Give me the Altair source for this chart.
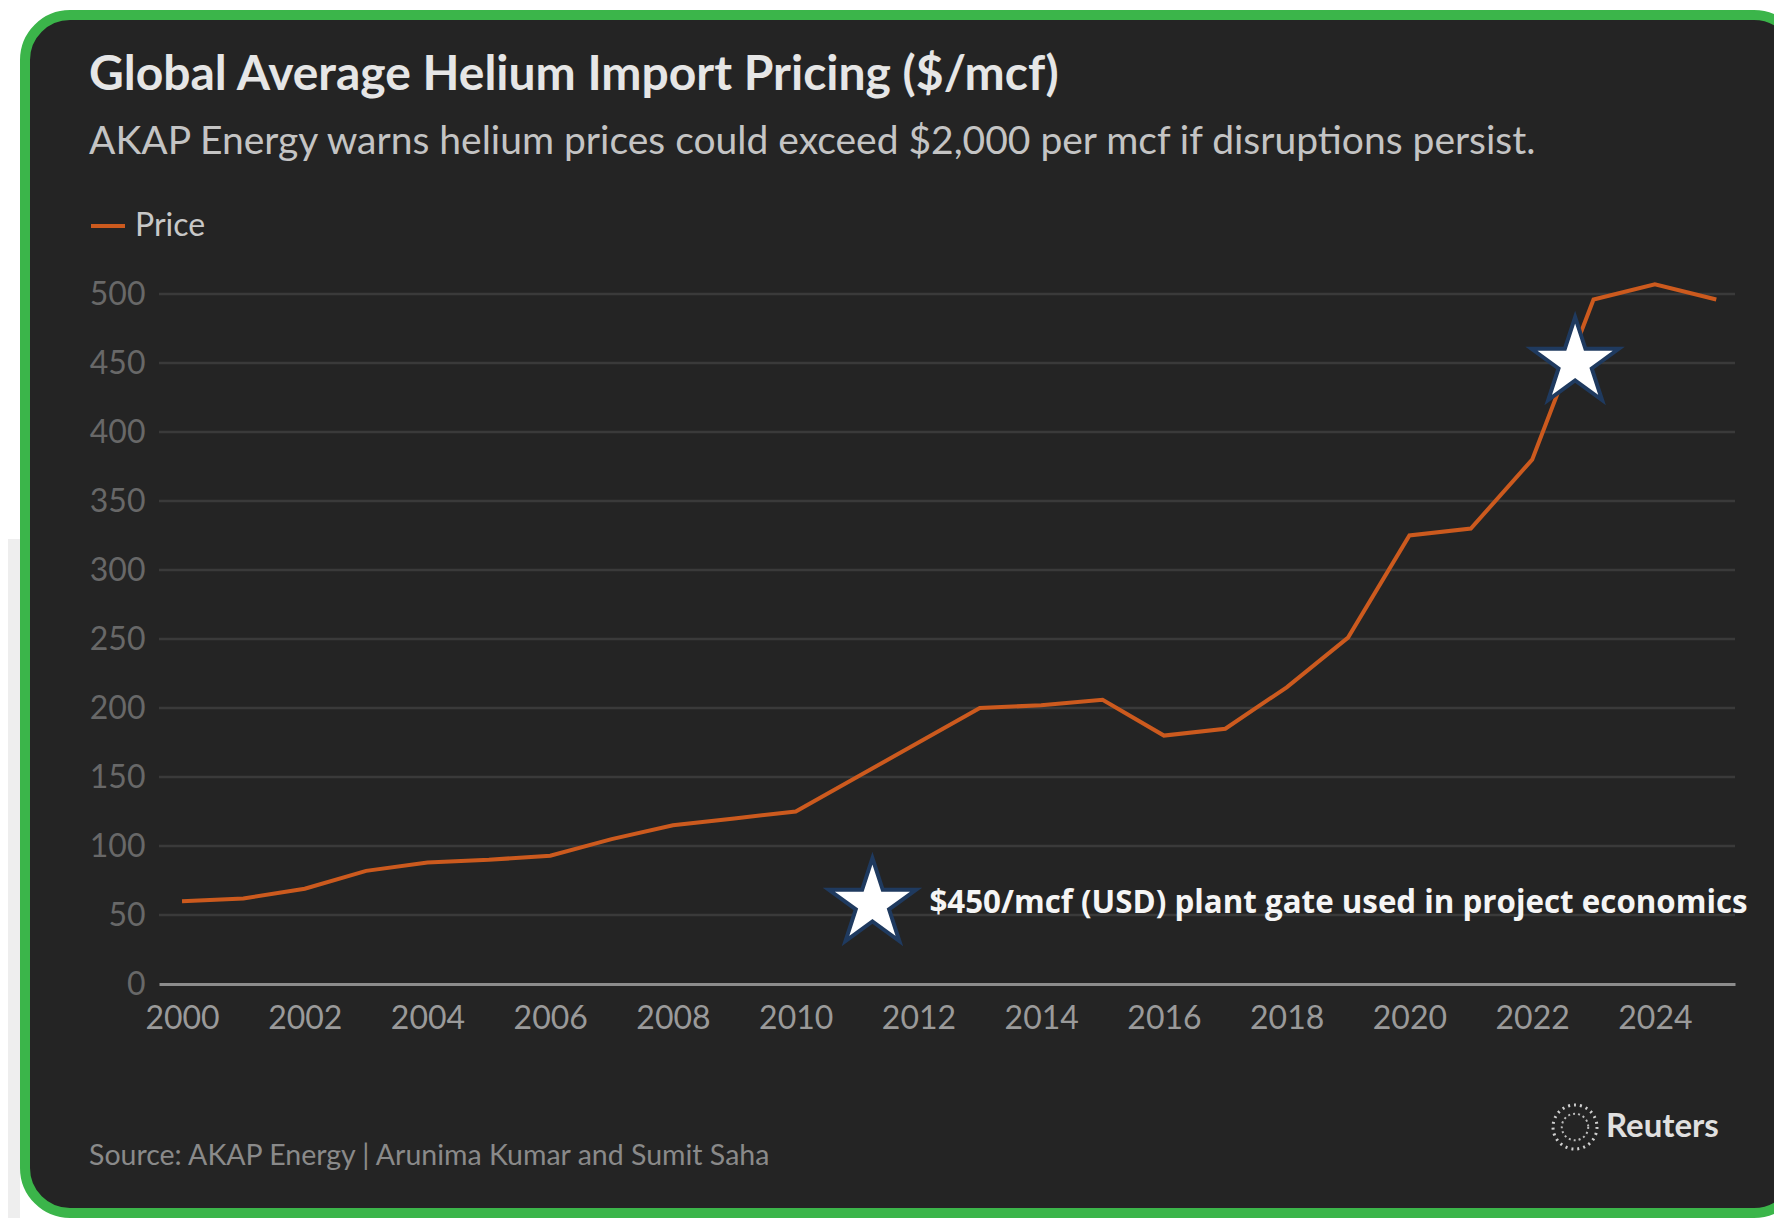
import altair as alt
import pandas as pd

# ---- data ----
years = list(range(2000, 2026))
prices = [60, 62, 69, 82, 88, 90, 93, 105, 115, 120, 125, 150, 175, 200, 202,
          206, 180, 185, 215, 251, 325, 330, 380, 496, 507, 496]
series = ["Price"] * len(years)

star_years = [2022.7, 2011.25]
star_values = [450, 58]
star_notes = ["", "$450/mcf (USD) plant gate used in project economics"]

x_ticks = list(range(2000, 2026, 2))
y_ticks = list(range(0, 501, 50))

title_text = "Global Average Helium Import Pricing ($/mcf)"
subtitle_text = "AKAP Energy warns helium prices could exceed $2,000 per mcf if disruptions persist."
source_text = "Source: AKAP Energy | Arunima Kumar and Sumit Saha"
brand_text = "Reuters"

df = pd.DataFrame({"year": years, "price": prices, "series": series})
stars = pd.DataFrame({"year": star_years, "price": star_values, "note": star_notes})
grid_df = pd.DataFrame({"v": y_ticks[1:]})

STAR = ("M0,-1L0.2245,-0.309L0.951,-0.309L0.363,0.118L0.588,0.809L0,0.382"
        "L-0.588,0.809L-0.363,0.118L-0.951,-0.309L-0.2245,-0.309Z")

W, H = 1576, 690
BG = "#242424"

x_scale = alt.Scale(domain=[1999.625, 2025.305], nice=False, zero=False)
y_scale = alt.Scale(domain=[0, 500], nice=False)

x_enc = alt.X("year:Q", scale=x_scale,
              axis=alt.Axis(values=x_ticks, format="d", title=None, grid=False,
                            domain=True, domainColor="#8c8c8c", domainWidth=3,
                            ticks=False, labelColor="#9a9a9a", labelFont="Lato",
                            labelFontSize=32, labelPadding=19, zindex=1))
y_enc = alt.Y("price:Q", scale=y_scale,
              axis=alt.Axis(values=y_ticks, title=None, grid=False,
                            domain=False, ticks=False, labelColor="#686868",
                            labelFont="Lato", labelFontSize=32, labelPadding=14,
                            zindex=1))


def one(text=""):
    return alt.Data(values=[{"t": text}])


def label(text, x, y, **kw):
    return alt.Chart(one(text)).mark_text(align="left", baseline="middle", **kw).encode(
        x=alt.value(x), y=alt.value(y), text="t:N")


strip = alt.Chart(one()).mark_rect(fill="#eeeeee").encode(
    x=alt.value(-151), x2=alt.value(-139), y=alt.value(245), y2=alt.value(924))

frame = alt.Chart(one()).mark_rect(
    fill=BG, stroke="#3bb54a", strokeWidth=10, cornerRadius=45).encode(
    x=alt.value(-134), x2=alt.value(1640), y=alt.value(-279), y2=alt.value(919))

grid = alt.Chart(grid_df).mark_rule(color="#3a3a3a", strokeWidth=2.5).encode(
    y=alt.Y("v:Q", scale=y_scale))

line = alt.Chart(df).mark_line(strokeWidth=4).encode(
    x=x_enc, y=y_enc,
    color=alt.Color("series:N", scale=alt.Scale(range=["#cc5a1e"]),
                    legend=alt.Legend(title=None, orient="none", legendX=-70,
                                      legendY=-87, symbolType="stroke",
                                      symbolStrokeWidth=4, symbolSize=1156,
                                      labelFont="Lato", labelFontSize=32,
                                      labelColor="#c8c8c8", labelOffset=8,
                                      padding=0, zindex=1)))

star_marks = alt.Chart(stars).mark_point(
    shape=STAR, size=8400, filled=True, fill="#ffffff", stroke="#1f3a5f",
    strokeWidth=4, opacity=1).encode(x="year:Q", y="price:Q")

note = alt.Chart(stars).mark_text(
    align="left", baseline="middle", dx=57, font="Open Sans", fontWeight="bold",
    fontSize=31.3, color="#f5f5f5").encode(x="year:Q", y="price:Q", text="note:N")

title = label(title_text, -70, -218, font="Lato", fontWeight="bold",
              fontSize=48, color="#e6e6e6")
subtitle = label(subtitle_text, -70, -152, font="Lato", fontSize=39,
                 color="#c4c4c4")
source = label(source_text, -70, 862, font="Lato", fontSize=28.5, color="#8a8a8a")
brand = label(brand_text, 1447, 833, font="Lato", fontWeight="bold",
              fontSize=33, color="#e0e0e0")

ring_outer = alt.Chart(one()).mark_point(
    shape="circle", size=1936, filled=False, stroke="#d0d0d0", strokeWidth=3,
    strokeDash=[2, 4], opacity=1).encode(x=alt.value(1416), y=alt.value(833))
ring_inner = alt.Chart(one()).mark_point(
    shape="circle", size=700, filled=False, stroke="#bdbdbd", strokeWidth=2,
    strokeDash=[2, 3], opacity=1).encode(x=alt.value(1416), y=alt.value(833))

chart = alt.layer(
    strip, frame, grid, line, star_marks, note, title, subtitle, source, brand,
    ring_outer, ring_inner
).properties(
    width=W, height=H,
    padding={"left": 151, "top": 286, "right": 39, "bottom": 234},
    autosize=alt.AutoSizeParams(type="none"),
    background="#ffffff",
).configure_view(stroke=None)

chart.save("out.html", embed_options={"renderer": "svg", "actions": False})
